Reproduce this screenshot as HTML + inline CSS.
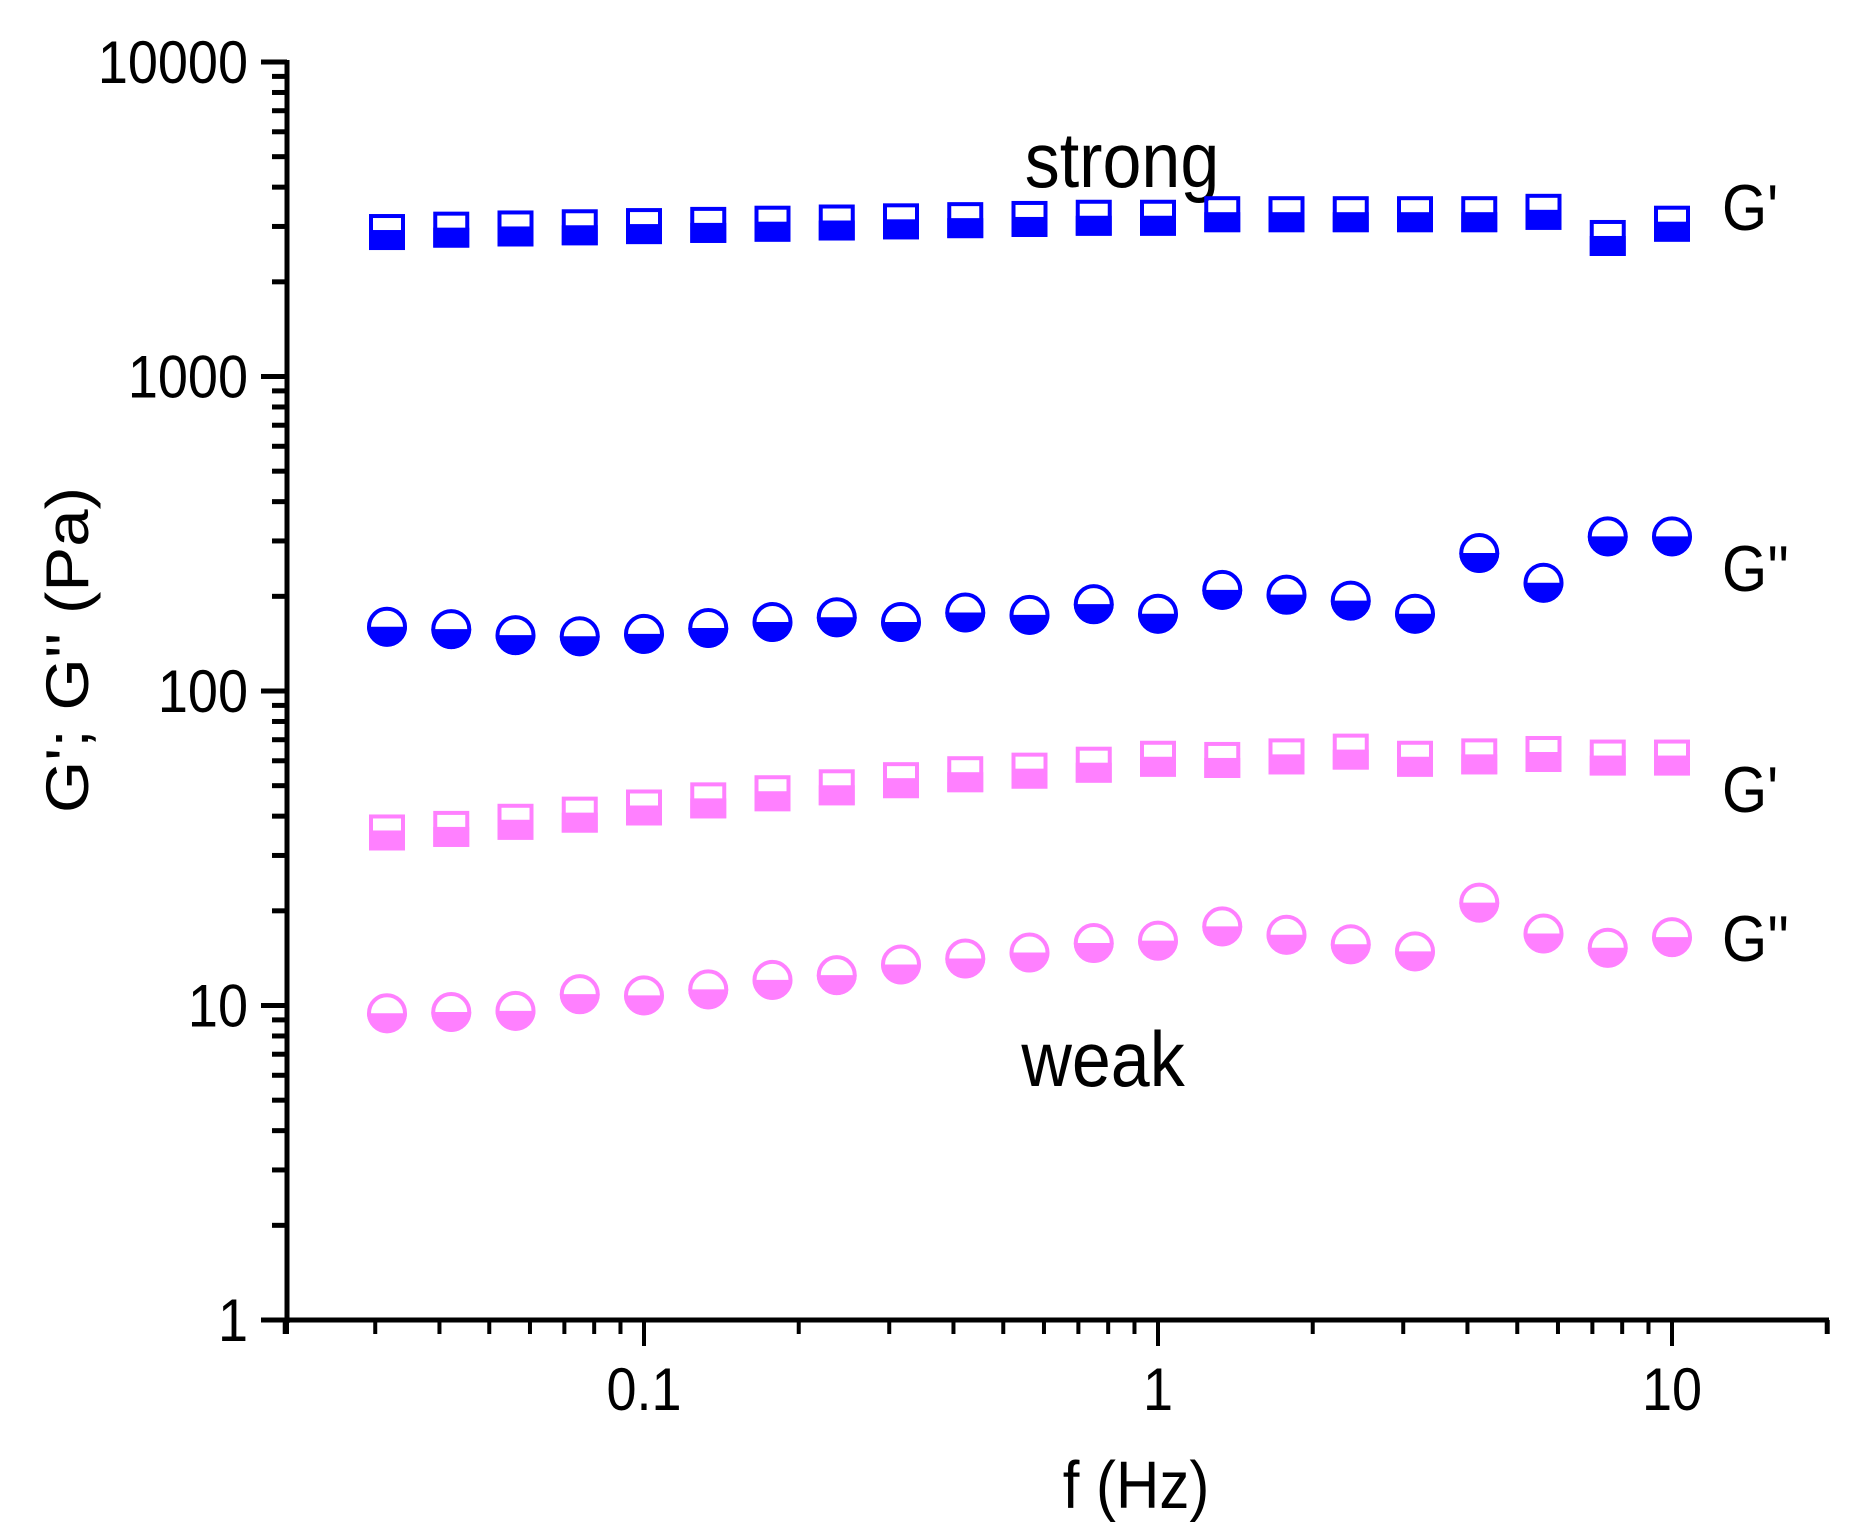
<!DOCTYPE html>
<html><head><meta charset="utf-8"><style>
html,body{margin:0;padding:0;background:#fff;}
svg{display:block;}
text{font-family:"Liberation Sans",Arial,sans-serif;fill:#000;}
</style></head><body>
<svg id="s" width="1862" height="1533" viewBox="0 0 1862 1533" xmlns="http://www.w3.org/2000/svg">
<rect width="1862" height="1533" fill="#fff"/>
<g id="g"></g>
</svg>
<script>
var NS="http://www.w3.org/2000/svg",g=document.getElementById('g');
function el(t,a,txt){var e=document.createElementNS(NS,t);for(var k in a)e.setAttribute(k,a[k]);if(txt!=null)e.textContent=txt;g.appendChild(e);return e;}
function tx(x,y,anchor,size,s,sy){var e=el('text',{x:0,y:0,'text-anchor':anchor,'font-size':size,transform:'translate('+x+','+y+') scale(1,'+(sy||1.12)+')'},s);return e;}
var X0=287,Y0=1320,Y1=62,XD=514,X1=1158;
function px(v){return X1+Math.log10(v)*XD;}
function py(v){return Y0-Math.log10(v)*(Y0-Y1)/4;}
el('line',{x1:X0,y1:Y1-2,x2:X0,y2:Y0+3,stroke:'#000','stroke-width':5});
el('line',{x1:X0-3,y1:Y0,x2:1829,y2:Y0,stroke:'#000','stroke-width':5});
for(var d=0;d<=4;d++){var v=Math.pow(10,d);var y=py(v);
 el('line',{x1:X0-26,y1:y,x2:X0,y2:y,stroke:'#000','stroke-width':5});
 tx(248,y+21,'end',54,String(v));
 if(d<4)for(var m=2;m<=9;m++){var ym=py(v*m);el('line',{x1:X0-15,y1:ym,x2:X0,y2:ym,stroke:'#000','stroke-width':5});}
}
[0.1,1,10].forEach(function(v){var x=px(v);el('line',{x1:x,y1:Y0,x2:x,y2:Y0+26,stroke:'#000','stroke-width':4});});
tx(px(0.1),1410,'middle',54,'0.1');
tx(px(1),1410,'middle',54,'1');
tx(px(10),1410,'middle',54,'10');
[0.01,0.1,1,10].forEach(function(b){for(var m=2;m<=9;m++){var v=b*m;if(v<0.02||v>20)continue;var x=px(v);el('line',{x1:x,y1:Y0,x2:x,y2:Y0+14,stroke:'#000','stroke-width':4});}});
el('line',{x1:px(20)+1,y1:Y0,x2:px(20)+1,y2:Y0+14,stroke:'#000','stroke-width':4});
el('line',{x1:X0,y1:Y0,x2:X0,y2:Y0+14,stroke:'#000','stroke-width':4});
tx(1136,1508,'middle',60,'f (Hz)');
el('text',{x:0,y:0,'text-anchor':'middle','font-size':60,transform:'translate(88,650) rotate(-90) scale(1.12,1)'},"G'; G'' (Pa)");
tx(1122,187,'middle',70,'strong');
tx(1103,1086,'middle',70,'weak');
tx(1722,230,'start',58,"G'");
tx(1722,591,'start',58,"G''");
tx(1722,812,'start',58,"G'");
tx(1722,961,'start',58,"G''");
function cy(yd){return 62+(yd-52)*1.189;}
var sG1=[195,193,192,191,190,189,188,187,186,185,184,183,183,180,180,180,180,180,178,200,188];
var sG2=[527,529,534,535,533,528,523,519,523,515,517,508,516,496,500,505,516,465,490,451,451];
var wG1=[700,697,691,685,679,673,667,662,656,651,648,643,638,639,636,632,638,636,634,637,637];
var wG2=[852,851,850,836,837,832,824,820,811,806,801,793,791,779,786,794,800,759,785,797,788];
function sq(x,y,c){el('rect',{x:x-18,y:y-2,width:36,height:20,fill:c});el('rect',{x:x-16,y:y-16,width:32,height:32,fill:'none',stroke:c,'stroke-width':4});}
function ci(x,y,c){el('path',{d:'M'+(x-20)+' '+y+' A20 20 0 0 0 '+(x+20)+' '+y+' Z',fill:c});el('circle',{cx:x,cy:y,r:18,fill:'none',stroke:c,'stroke-width':4});}
for(var i=0;i<21;i++){var x=px(Math.pow(10,(i-12)/8));
 sq(x,cy(sG1[i]),'#0000ff');ci(x,cy(sG2[i]),'#0000ff');
 sq(x,cy(wG1[i]),'#ff80ff');ci(x,cy(wG2[i]),'#ff80ff');}
</script>
</body></html>
